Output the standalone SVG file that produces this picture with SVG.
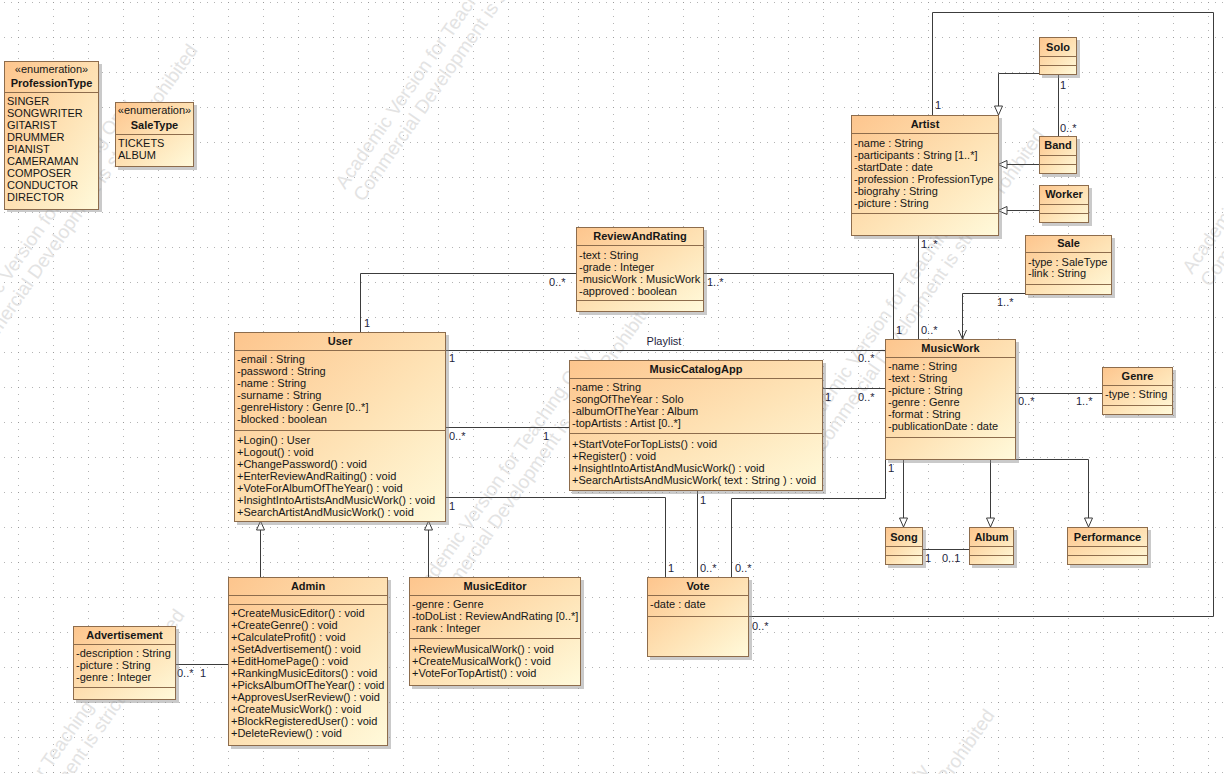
<svg xmlns="http://www.w3.org/2000/svg" width="1224" height="774" viewBox="0 0 1224 774">
  <defs>
    <linearGradient id="classFill" x1="0" y1="0" x2="1" y2="1">
      <stop offset="0" stop-color="#fdc58d"/>
      <stop offset="0.55" stop-color="#fee3b6"/>
      <stop offset="1" stop-color="#fffadb"/>
    </linearGradient>
    <pattern id="grid" x="18" y="2" width="35" height="35" patternUnits="userSpaceOnUse">
      <rect x="0" y="0" width="1" height="1" fill="#9a9a9a"/>
      <rect x="7" y="0" width="1" height="1" fill="#b4b4b4"/>
      <rect x="14" y="0" width="1" height="1" fill="#b4b4b4"/>
      <rect x="21" y="0" width="1" height="1" fill="#b4b4b4"/>
      <rect x="28" y="0" width="1" height="1" fill="#b4b4b4"/>
      <rect x="0" y="7" width="1" height="1" fill="#b4b4b4"/>
      <rect x="0" y="14" width="1" height="1" fill="#b4b4b4"/>
      <rect x="0" y="21" width="1" height="1" fill="#b4b4b4"/>
      <rect x="0" y="28" width="1" height="1" fill="#b4b4b4"/>
    </pattern>
    <!-- academic licence notice, repeated diagonally behind the model -->
    <g id="notice">
      <text class="wm" x="0" y="0">Academic Version for Teaching Only</text>
      <text class="wm" x="0" y="22">Commercial Development is strictly Prohibited</text>
    </g>
    <marker id="generalization" markerUnits="userSpaceOnUse" markerWidth="11" markerHeight="11" viewBox="0 0 11 11" refX="10" refY="5.5" orient="auto">
      <path d="M1,1.5 L10,5.5 L1,9.5 Z" fill="#ffffff" stroke="#3c3c3c" stroke-width="1"/>
    </marker>
    <marker id="navigable" markerUnits="userSpaceOnUse" markerWidth="11" markerHeight="11" viewBox="0 0 11 11" refX="10" refY="5.5" orient="auto">
      <path d="M1,1.5 L10,5.5 L1,9.5" fill="none" stroke="#3c3c3c" stroke-width="1"/>
    </marker>
  </defs>
  <style>
    .box { fill: url(#classFill); stroke: #8d6c4c; stroke-width: 1; }
    .shadow { fill: #8a8a8a; opacity: 0.45; }
    .sep { stroke: #8d6c4c; stroke-width: 1; }
    .t { font-family: "Liberation Sans", Arial, sans-serif; font-size: 11px; fill: #161616; }
    .name { font-weight: bold; text-anchor: middle; }
    .mid { text-anchor: middle; }
    .edge { fill: none; stroke: #3c3c3c; stroke-width: 1; }
    .gen { marker-end: url(#generalization); }
    .lbl { font-family: "Liberation Sans", Arial, sans-serif; font-size: 11px; fill: #1e1e3c; }
    .wm { font-family: "Liberation Sans", Arial, sans-serif; font-size: 19px; fill: #e3e3e3; }
  </style>

  <!-- dotted drawing grid -->
  <rect x="0" y="0" width="1224" height="774" fill="#ffffff"/>
  <rect x="0" y="0" width="1224" height="774" fill="url(#grid)"/>

  <!-- licence notice tiles -->
  <g id="watermark">
    <use href="#notice" transform="translate(345,190) rotate(-55)"/>
    <use href="#notice" transform="translate(-42,355) rotate(-55)"/>
    <use href="#notice" transform="translate(805,440) rotate(-55)"/>
    <use href="#notice" transform="translate(1192,275) rotate(-55)"/>
    <use href="#notice" transform="translate(418,605) rotate(-55)"/>
    <use href="#notice" transform="translate(-55,920) rotate(-55)"/>
    <use href="#notice" transform="translate(755,1020) rotate(-55)"/>
  </g>

  <!-- connectors -->
  <g id="connectors">
    <!-- User - ReviewAndRating -->
    <path class="edge" d="M360.5,332 V273.5 H576"/>
    <text class="lbl" x="364" y="327">1</text>
    <text class="lbl" x="549" y="286">0..*</text>
    <!-- ReviewAndRating - MusicWork -->
    <path class="edge" d="M703,273.5 H893.5 V339"/>
    <text class="lbl" x="707" y="286">1..*</text>
    <text class="lbl" x="896" y="334">1</text>
    <!-- Artist - MusicWork -->
    <path class="edge" d="M918.5,236 V339"/>
    <text class="lbl" x="921" y="248">1..*</text>
    <text class="lbl" x="921" y="334">0..*</text>
    <!-- Sale - MusicWork -->
    <path class="edge" d="M1025,293.5 H962.5 V339" marker-end="url(#navigable)"/>
    <text class="lbl" x="997" y="306">1..*</text>
    <!-- Genre - MusicWork -->
    <path class="edge" d="M1015,393.5 H1102"/>
    <text class="lbl" x="1018" y="405">0..*</text>
    <text class="lbl" x="1076" y="405">1..*</text>
    <!-- Playlist: User - MusicWork -->
    <path class="edge" d="M445,350.5 H885"/>
    <text class="lbl mid" x="664" y="345">Playlist</text>
    <text class="lbl" x="449" y="362">1</text>
    <text class="lbl" x="858" y="362">0..*</text>
    <!-- User - MusicCatalogApp -->
    <path class="edge" d="M445,427.5 H569"/>
    <text class="lbl" x="449" y="440">0..*</text>
    <text class="lbl" x="543" y="440">1</text>
    <!-- MusicCatalogApp - MusicWork -->
    <path class="edge" d="M822,388.5 H885"/>
    <text class="lbl" x="825" y="401">1</text>
    <text class="lbl" x="858" y="401">0..*</text>
    <!-- User - Vote -->
    <path class="edge" d="M445,497.5 H665.5 V577"/>
    <text class="lbl" x="449" y="510">1</text>
    <text class="lbl" x="668" y="572">1</text>
    <!-- MusicCatalogApp - Vote -->
    <path class="edge" d="M697.5,490 V577"/>
    <text class="lbl" x="700" y="504">1</text>
    <text class="lbl" x="700" y="572">0..*</text>
    <!-- MusicWork - Vote -->
    <path class="edge" d="M885.5,459 V498.5 H731.5 V577"/>
    <text class="lbl" x="888" y="472">1</text>
    <text class="lbl" x="735" y="572">0..*</text>
    <!-- Artist - Vote -->
    <path class="edge" d="M932.5,115 V12.5 H1213.5 V616.5 H748"/>
    <text class="lbl" x="935" y="109">1</text>
    <text class="lbl" x="752" y="630">0..*</text>
    <!-- Solo, Band, Worker specialise Artist -->
    <path class="edge gen" d="M1039,73.5 H998.5 V115"/>
    <path class="edge gen" d="M1039,164.5 H998"/>
    <path class="edge gen" d="M1039,210.5 H998"/>
    <!-- Solo - Band -->
    <path class="edge" d="M1058.5,74 V136"/>
    <text class="lbl" x="1060" y="89">1</text>
    <text class="lbl" x="1060" y="132">0..*</text>
    <!-- Song, Album, Performance specialise MusicWork -->
    <path class="edge gen" d="M903.5,459 V527"/>
    <path class="edge gen" d="M990.5,459 V527"/>
    <path class="edge gen" d="M1015,459.5 H1088.5 V527"/>
    <!-- Song - Album -->
    <path class="edge" d="M922,549.5 H969"/>
    <text class="lbl" x="925" y="562">1</text>
    <text class="lbl" x="942" y="562">0..1</text>
    <!-- Admin, MusicEditor specialise User -->
    <path class="edge gen" d="M260.5,577 V521"/>
    <path class="edge gen" d="M428.5,577 V521"/>
    <!-- Advertisement - Admin -->
    <path class="edge" d="M175,664.5 H228"/>
    <text class="lbl" x="177" y="677">0..*</text>
    <text class="lbl" x="200" y="677">1</text>
  </g>

  <!-- ProfessionType -->
  <g id="ProfessionType">
    <rect class="shadow" x="7" y="64" width="95" height="148"/>
    <rect class="box" x="4.5" y="61.5" width="94" height="148"/>
    <line class="sep" x1="4.5" y1="92.5" x2="98.5" y2="92.5"/>
    <text class="t mid" x="51.5" y="73">«enumeration»</text>
    <text class="t name" x="51.5" y="87">ProfessionType</text>
    <text class="t" x="7" y="105">SINGER</text>
    <text class="t" x="7" y="117">SONGWRITER</text>
    <text class="t" x="7" y="129">GITARIST</text>
    <text class="t" x="7" y="141">DRUMMER</text>
    <text class="t" x="7" y="153">PIANIST</text>
    <text class="t" x="7" y="165">CAMERAMAN</text>
    <text class="t" x="7" y="177">COMPOSER</text>
    <text class="t" x="7" y="189">CONDUCTOR</text>
    <text class="t" x="7" y="201">DIRECTOR</text>
  </g>

  <!-- SaleType -->
  <g id="SaleType">
    <rect class="shadow" x="118" y="105" width="79" height="65"/>
    <rect class="box" x="115.5" y="102.5" width="78" height="64"/>
    <line class="sep" x1="115.5" y1="134.5" x2="193.5" y2="134.5"/>
    <text class="t mid" x="154.5" y="114">«enumeration»</text>
    <text class="t name" x="154.5" y="129">SaleType</text>
    <text class="t" x="118" y="147">TICKETS</text>
    <text class="t" x="118" y="159">ALBUM</text>
  </g>

  <!-- Artist -->
  <g id="Artist">
    <rect class="shadow" x="854" y="118" width="148" height="121"/>
    <rect class="box" x="851.5" y="115.5" width="147" height="120"/>
    <line class="sep" x1="851.5" y1="133.5" x2="998.5" y2="133.5"/>
    <line class="sep" x1="851.5" y1="213.5" x2="998.5" y2="213.5"/>
    <text class="t name" x="925" y="128">Artist</text>
    <text class="t" x="854" y="147">-name : String</text>
    <text class="t" x="854" y="159">-participants : String [1..*]</text>
    <text class="t" x="854" y="171">-startDate : date</text>
    <text class="t" x="854" y="183">-profession : ProfessionType</text>
    <text class="t" x="854" y="195">-biograhy : String</text>
    <text class="t" x="854" y="207">-picture : String</text>
  </g>

  <!-- Solo -->
  <g id="Solo">
    <rect class="shadow" x="1042" y="40" width="38" height="38"/>
    <rect class="box" x="1039.5" y="37.5" width="37" height="37"/>
    <line class="sep" x1="1039.5" y1="56.5" x2="1076.5" y2="56.5"/>
    <line class="sep" x1="1039.5" y1="65.5" x2="1076.5" y2="65.5"/>
    <text class="t name" x="1058" y="51">Solo</text>
  </g>

  <!-- Band -->
  <g id="Band">
    <rect class="shadow" x="1042" y="139" width="38" height="38"/>
    <rect class="box" x="1039.5" y="136.5" width="37" height="37"/>
    <line class="sep" x1="1039.5" y1="155.5" x2="1076.5" y2="155.5"/>
    <line class="sep" x1="1039.5" y1="164.5" x2="1076.5" y2="164.5"/>
    <text class="t name" x="1058" y="149">Band</text>
  </g>

  <!-- Worker -->
  <g id="Worker">
    <rect class="shadow" x="1042" y="188" width="50" height="38"/>
    <rect class="box" x="1039.5" y="185.5" width="49" height="37"/>
    <line class="sep" x1="1039.5" y1="204.5" x2="1088.5" y2="204.5"/>
    <line class="sep" x1="1039.5" y1="213.5" x2="1088.5" y2="213.5"/>
    <text class="t name" x="1064" y="198">Worker</text>
  </g>

  <!-- Sale -->
  <g id="Sale">
    <rect class="shadow" x="1028" y="238" width="87" height="60"/>
    <rect class="box" x="1025.5" y="235.5" width="86" height="59"/>
    <line class="sep" x1="1025.5" y1="252.5" x2="1111.5" y2="252.5"/>
    <line class="sep" x1="1025.5" y1="284.5" x2="1111.5" y2="284.5"/>
    <text class="t name" x="1068.5" y="247">Sale</text>
    <text class="t" x="1028" y="266">-type : SaleType</text>
    <text class="t" x="1028" y="277">-link : String</text>
  </g>

  <!-- ReviewAndRating -->
  <g id="ReviewAndRating">
    <rect class="shadow" x="579" y="230" width="128" height="85"/>
    <rect class="box" x="576.5" y="227.5" width="127" height="84"/>
    <line class="sep" x1="576.5" y1="245.5" x2="703.5" y2="245.5"/>
    <line class="sep" x1="576.5" y1="300.5" x2="703.5" y2="300.5"/>
    <text class="t name" x="640" y="240">ReviewAndRating</text>
    <text class="t" x="579" y="259">-text : String</text>
    <text class="t" x="579" y="271">-grade : Integer</text>
    <text class="t" x="579" y="283">-musicWork : MusicWork</text>
    <text class="t" x="579" y="295">-approved : boolean</text>
  </g>

  <!-- User -->
  <g id="User">
    <rect class="shadow" x="237" y="335" width="212" height="190"/>
    <rect class="box" x="234.5" y="332.5" width="211" height="189"/>
    <line class="sep" x1="234.5" y1="350.5" x2="445.5" y2="350.5"/>
    <line class="sep" x1="234.5" y1="430.5" x2="445.5" y2="430.5"/>
    <text class="t name" x="340" y="345">User</text>
    <text class="t" x="237" y="363">-email : String</text>
    <text class="t" x="237" y="375">-password : String</text>
    <text class="t" x="237" y="387">-name : String</text>
    <text class="t" x="237" y="399">-surname : String</text>
    <text class="t" x="237" y="411">-genreHistory : Genre [0..*]</text>
    <text class="t" x="237" y="423">-blocked : boolean</text>
    <text class="t" x="237" y="444">+Login() : User</text>
    <text class="t" x="237" y="456">+Logout() : void</text>
    <text class="t" x="237" y="468">+ChangePassword() : void</text>
    <text class="t" x="237" y="480">+EnterReviewAndRaiting() : void</text>
    <text class="t" x="237" y="492">+VoteForAlbumOfTheYear() : void</text>
    <text class="t" x="237" y="504">+InsightIntoArtistsAndMusicWork() : void</text>
    <text class="t" x="237" y="516">+SearchArtistAndMusicWork() : void</text>
  </g>

  <!-- MusicCatalogApp -->
  <g id="MusicCatalogApp">
    <rect class="shadow" x="572" y="363" width="254" height="131"/>
    <rect class="box" x="569.5" y="360.5" width="253" height="130"/>
    <line class="sep" x1="569.5" y1="378.5" x2="822.5" y2="378.5"/>
    <line class="sep" x1="569.5" y1="433.5" x2="822.5" y2="433.5"/>
    <text class="t name" x="696" y="373">MusicCatalogApp</text>
    <text class="t" x="572" y="391">-name : String</text>
    <text class="t" x="572" y="403">-songOfTheYear : Solo</text>
    <text class="t" x="572" y="415">-albumOfTheYear : Album</text>
    <text class="t" x="572" y="427">-topArtists : Artist [0..*]</text>
    <text class="t" x="572" y="448">+StartVoteForTopLists() : void</text>
    <text class="t" x="572" y="460">+Register() : void</text>
    <text class="t" x="572" y="472">+InsightIntoArtistAndMusicWork() : void</text>
    <text class="t" x="572" y="484">+SearchArtistsAndMusicWork( text : String ) : void</text>
  </g>

  <!-- MusicWork -->
  <g id="MusicWork">
    <rect class="shadow" x="888" y="342" width="131" height="121"/>
    <rect class="box" x="885.5" y="339.5" width="130" height="120"/>
    <line class="sep" x1="885.5" y1="357.5" x2="1015.5" y2="357.5"/>
    <line class="sep" x1="885.5" y1="437.5" x2="1015.5" y2="437.5"/>
    <text class="t name" x="950.5" y="352">MusicWork</text>
    <text class="t" x="888" y="370">-name : String</text>
    <text class="t" x="888" y="382">-text : String</text>
    <text class="t" x="888" y="394">-picture : String</text>
    <text class="t" x="888" y="406">-genre : Genre</text>
    <text class="t" x="888" y="418">-format : String</text>
    <text class="t" x="888" y="430">-publicationDate : date</text>
  </g>

  <!-- Genre -->
  <g id="Genre">
    <rect class="shadow" x="1105" y="370" width="71" height="48"/>
    <rect class="box" x="1102.5" y="367.5" width="70" height="47"/>
    <line class="sep" x1="1102.5" y1="385.5" x2="1172.5" y2="385.5"/>
    <line class="sep" x1="1102.5" y1="405.5" x2="1172.5" y2="405.5"/>
    <text class="t name" x="1137.5" y="380">Genre</text>
    <text class="t" x="1105" y="398">-type : String</text>
  </g>

  <!-- Song -->
  <g id="Song">
    <rect class="shadow" x="888" y="530" width="38" height="38"/>
    <rect class="box" x="885.5" y="527.5" width="37" height="37"/>
    <line class="sep" x1="885.5" y1="546.5" x2="922.5" y2="546.5"/>
    <line class="sep" x1="885.5" y1="555.5" x2="922.5" y2="555.5"/>
    <text class="t name" x="904" y="541">Song</text>
  </g>

  <!-- Album -->
  <g id="Album">
    <rect class="shadow" x="972" y="530" width="45" height="38"/>
    <rect class="box" x="969.5" y="527.5" width="44" height="37"/>
    <line class="sep" x1="969.5" y1="546.5" x2="1013.5" y2="546.5"/>
    <line class="sep" x1="969.5" y1="555.5" x2="1013.5" y2="555.5"/>
    <text class="t name" x="991.5" y="541">Album</text>
  </g>

  <!-- Performance -->
  <g id="Performance">
    <rect class="shadow" x="1070" y="530" width="81" height="38"/>
    <rect class="box" x="1067.5" y="527.5" width="80" height="37"/>
    <line class="sep" x1="1067.5" y1="546.5" x2="1147.5" y2="546.5"/>
    <line class="sep" x1="1067.5" y1="555.5" x2="1147.5" y2="555.5"/>
    <text class="t name" x="1107.5" y="541">Performance</text>
  </g>

  <!-- Vote -->
  <g id="Vote">
    <rect class="shadow" x="650" y="580" width="102" height="80"/>
    <rect class="box" x="647.5" y="577.5" width="101" height="79"/>
    <line class="sep" x1="647.5" y1="595.5" x2="748.5" y2="595.5"/>
    <line class="sep" x1="647.5" y1="616.5" x2="748.5" y2="616.5"/>
    <text class="t name" x="698" y="590">Vote</text>
    <text class="t" x="650" y="608">-date : date</text>
  </g>

  <!-- Admin -->
  <g id="Admin">
    <rect class="shadow" x="231" y="580" width="160" height="169"/>
    <rect class="box" x="228.5" y="577.5" width="159" height="168"/>
    <line class="sep" x1="228.5" y1="595.5" x2="387.5" y2="595.5"/>
    <line class="sep" x1="228.5" y1="604.5" x2="387.5" y2="604.5"/>
    <text class="t name" x="308" y="590">Admin</text>
    <text class="t" x="231" y="617">+CreateMusicEditor() : void</text>
    <text class="t" x="231" y="629">+CreateGenre() : void</text>
    <text class="t" x="231" y="641">+CalculateProfit() : void</text>
    <text class="t" x="231" y="653">+SetAdvertisement() : void</text>
    <text class="t" x="231" y="665">+EditHomePage() : void</text>
    <text class="t" x="231" y="677">+RankingMusicEditors() : void</text>
    <text class="t" x="231" y="689">+PicksAlbumOfTheYear() : void</text>
    <text class="t" x="231" y="701">+ApprovesUserReview() : void</text>
    <text class="t" x="231" y="713">+CreateMusicWork() : void</text>
    <text class="t" x="231" y="725">+BlockRegisteredUser() : void</text>
    <text class="t" x="231" y="737">+DeleteReview() : void</text>
  </g>

  <!-- MusicEditor -->
  <g id="MusicEditor">
    <rect class="shadow" x="412" y="580" width="172" height="109"/>
    <rect class="box" x="409.5" y="577.5" width="171" height="108"/>
    <line class="sep" x1="409.5" y1="595.5" x2="580.5" y2="595.5"/>
    <line class="sep" x1="409.5" y1="638.5" x2="580.5" y2="638.5"/>
    <text class="t name" x="495" y="590">MusicEditor</text>
    <text class="t" x="412" y="608">-genre : Genre</text>
    <text class="t" x="412" y="620">-toDoList : ReviewAndRating [0..*]</text>
    <text class="t" x="412" y="632">-rank : Integer</text>
    <text class="t" x="412" y="653">+ReviewMusicalWork() : void</text>
    <text class="t" x="412" y="665">+CreateMusicalWork() : void</text>
    <text class="t" x="412" y="677">+VoteForTopArtist() : void</text>
  </g>

  <!-- Advertisement -->
  <g id="Advertisement">
    <rect class="shadow" x="76" y="629" width="103" height="74"/>
    <rect class="box" x="73.5" y="626.5" width="102" height="73"/>
    <line class="sep" x1="73.5" y1="644.5" x2="175.5" y2="644.5"/>
    <line class="sep" x1="73.5" y1="687.5" x2="175.5" y2="687.5"/>
    <text class="t name" x="124.5" y="639">Advertisement</text>
    <text class="t" x="76" y="657">-description : String</text>
    <text class="t" x="76" y="669">-picture : String</text>
    <text class="t" x="76" y="681">-genre : Integer</text>
  </g>
</svg>
